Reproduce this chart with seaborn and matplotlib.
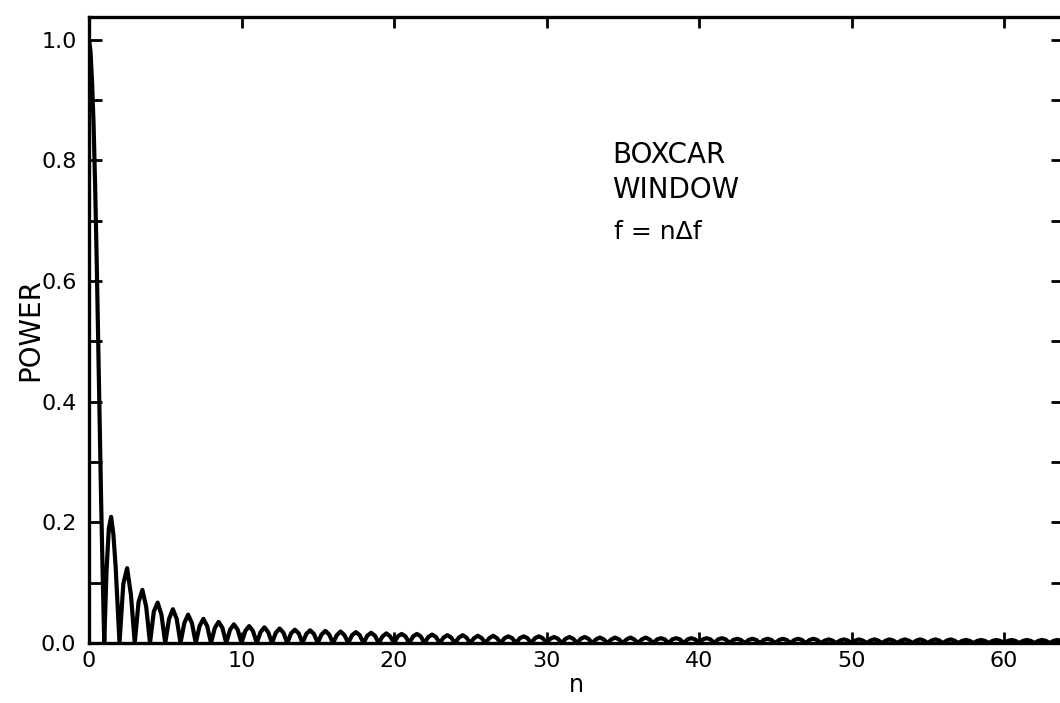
import numpy as np
import pandas as pd
import matplotlib
matplotlib.use("Agg")
import matplotlib.pyplot as plt
import seaborn as sns

# main lobe
main_n = [0.0, 0.1, 0.2, 0.3, 0.4, 0.5, 0.6, 0.7, 0.8, 0.9, 1.0]
main_power = [1.0, 0.98, 0.93, 0.86, 0.76, 0.64, 0.50, 0.37, 0.23, 0.11, 0.0]

# first side lobes, a few points each
lobe1_n = [1.15, 1.3, 1.45, 1.6, 1.75, 1.9, 2.0]
lobe1_power = [0.12, 0.19, 0.209, 0.18, 0.125, 0.05, 0.0]
lobe2_n = [2.25, 2.5, 2.75, 3.0]
lobe2_power = [0.098, 0.124, 0.08, 0.0]
lobe3_n = [3.25, 3.5, 3.75, 4.0]
lobe3_power = [0.068, 0.088, 0.06, 0.0]
lobe4_n = [4.25, 4.5, 4.75, 5.0]
lobe4_power = [0.052, 0.067, 0.047, 0.0]

# lobes 5..63: peak height and shoulder height (quarter way in)
lobe_start = 5
lobe_peak = [0.056, 0.047, 0.040, 0.035, 0.031, 0.028, 0.026, 0.024, 0.022, 0.021,
             0.020, 0.019, 0.018, 0.017, 0.016, 0.015, 0.015, 0.014, 0.013, 0.013,
             0.012, 0.012, 0.011, 0.011, 0.011, 0.010, 0.010, 0.010, 0.009, 0.009,
             0.009, 0.009, 0.008, 0.008, 0.008, 0.008, 0.008, 0.007, 0.007, 0.007,
             0.007, 0.007, 0.007, 0.006, 0.006, 0.006, 0.006, 0.006, 0.006, 0.006,
             0.006, 0.006, 0.005, 0.005, 0.005, 0.005, 0.005, 0.005, 0.005]
lobe_shoulder = [0.040, 0.033, 0.028, 0.025, 0.022, 0.020, 0.018, 0.017, 0.016, 0.015,
                 0.014, 0.013, 0.013, 0.012, 0.011, 0.011, 0.011, 0.010, 0.009, 0.009,
                 0.008, 0.008, 0.008, 0.008, 0.008, 0.007, 0.007, 0.007, 0.006, 0.006,
                 0.006, 0.006, 0.006, 0.006, 0.006, 0.006, 0.006, 0.005, 0.005, 0.005,
                 0.005, 0.005, 0.005, 0.004, 0.004, 0.004, 0.004, 0.004, 0.004, 0.004,
                 0.004, 0.004, 0.0035, 0.0035, 0.0035, 0.0035, 0.0035, 0.0035, 0.0035]

x_ticks = [0, 10, 20, 30, 40, 50, 60]
y_ticks = [0.0, 0.2, 0.4, 0.6, 0.8, 1.0]
y_labels = ["0.0", "0.2", "0.4", "0.6", "0.8", "1.0"]

# build one sequence: zeros at integers, shoulders and peaks in between
n_all = main_n + lobe1_n + lobe2_n + lobe3_n + lobe4_n
p_all = main_power + lobe1_power + lobe2_power + lobe3_power + lobe4_power
for i, (h, s) in enumerate(zip(lobe_peak, lobe_shoulder)):
    k = lobe_start + i
    n_all += [k + 0.25, k + 0.5, k + 0.75, k + 1]
    p_all += [s, h, s, 0.0]

df = pd.DataFrame({"n": n_all, "power": p_all})

sns.set_style("ticks")
plt.rcParams["font.family"] = ["DejaVu Sans"]
plt.rcParams["text.color"] = "black"
plt.rcParams["axes.labelcolor"] = "black"

fig = plt.figure(figsize=(10.6, 7.03), dpi=100)
ax = fig.add_axes([89 / 1060, 1 - 643 / 703, (1063 - 89) / 1060, (643 - 17) / 703])

sns.lineplot(data=df, x="n", y="power", sort=False, estimator=None,
             color="black", linewidth=3.0, ax=ax)

ax.set_xlim(0, (1063 - 89) / 15.25)
ax.set_ylim(0, 626 / 603.5)

ax.set_xticks(x_ticks)
ax.set_xticklabels([str(t) for t in x_ticks])
ax.set_yticks(y_ticks)
ax.set_yticklabels(y_labels)
ax.set_yticks([0.1, 0.3, 0.5, 0.7, 0.9], minor=True)

for s in ax.spines.values():
    s.set_linewidth(2.4)
    s.set_color("black")

ax.tick_params(axis="both", which="both", direction="in", top=True, right=True,
               width=2.0, length=9, labelsize=16, colors="black", pad=9)
ax.tick_params(axis="x", which="major", length=8, pad=6)
ax.tick_params(axis="x", which="minor", bottom=False, top=False)

ax.set_xlabel("n", fontsize=17, labelpad=1)
ax.set_ylabel("POWER", fontsize=20, labelpad=-2)

ax.text(0.537, 0.767, "BOXCAR", transform=ax.transAxes, fontsize=20)
ax.text(0.537, 0.711, "WINDOW", transform=ax.transAxes, fontsize=20)
ax.text(0.539, 0.646, "f = n\u0394f", transform=ax.transAxes, fontsize=18)

fig.savefig("out.png", dpi=100, facecolor="white")
